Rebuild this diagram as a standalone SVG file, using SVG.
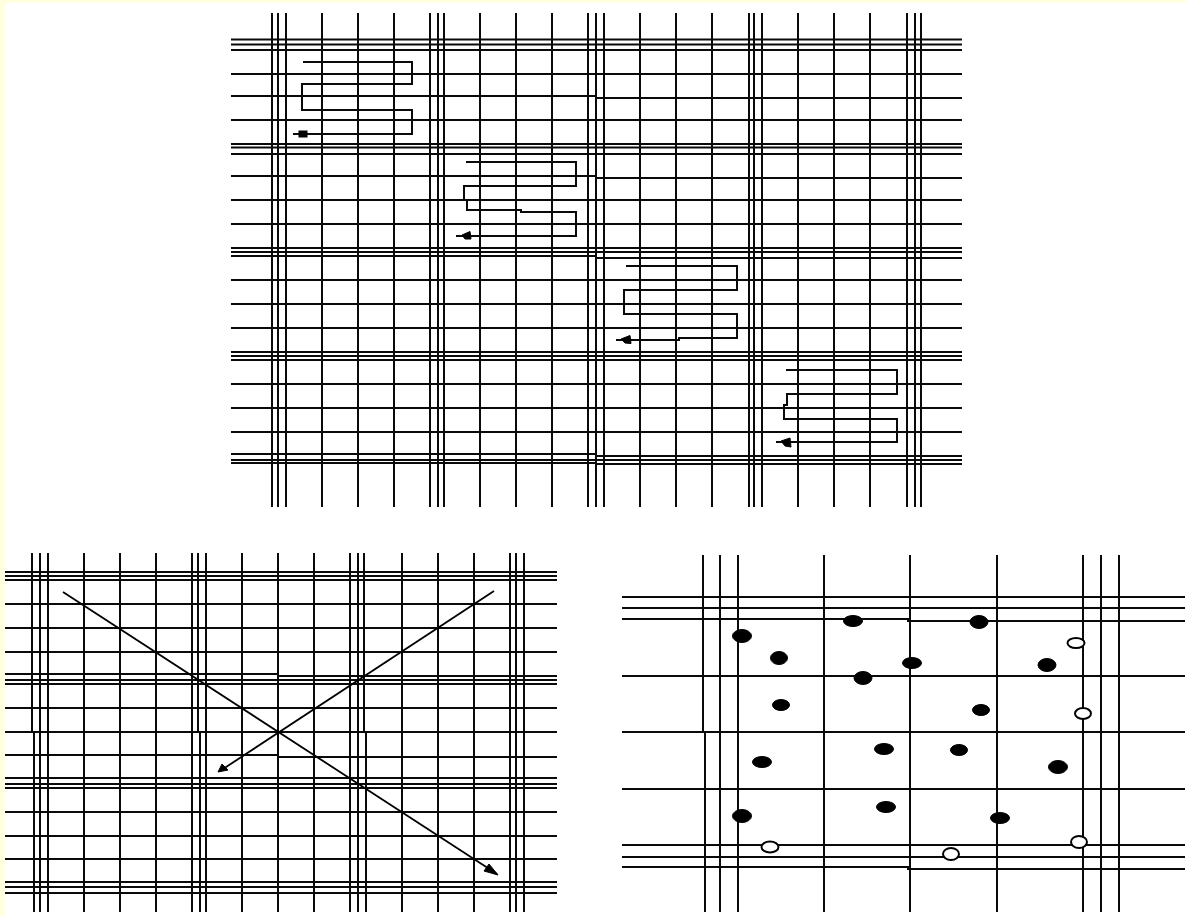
<svg xmlns="http://www.w3.org/2000/svg" width="1185" height="916" viewBox="0 0 1185 916">
<style>
.grid,.route{fill:none;stroke:#0a0a0a;stroke-width:2}
.diag{fill:none;stroke:#000;stroke-width:1.800}
.head{fill:#000;stroke:#000;stroke-width:1}
.on{fill:#000;stroke:#000;stroke-width:1}
.off{fill:#fff;stroke:#000;stroke-width:2}
</style>
<rect width="1185" height="916" fill="#ffffe0"/>
<rect x="5" y="3" width="1180" height="913" fill="#fff"/>
<g id="panel-top">
<path class="grid" d="M272 13V507M278 13V507M286 13V507M322 13V507M358 13V507M394 13V507M430 13V507M438 13V507M444 13V507M480 13V507M516 13V507M552 13V507M588 13V507M596 13V507M604 13V507M640 13V507M676 13V507M712 13V507M749 13V507M754 13V507M762 13V507M798 13V507M834 13V507M870 13V507M907 13V507M915 13V507M921 13V507"/>
<path class="grid" d="M231 39.500H962M231 44.500H962M231 50H962M231 74H962M231 96H596V98H962M231 120H962M231 144H962M231 147.500H962M231 154H962M231 176H596V178H962M231 200H962M231 224H962M231 248H962M231 252H962M231 256H596V258H962M231 280H962M231 304H962M231 328H962M231 352H962M231 356H962M231 360H962M231 384H962M231 408H962M231 432H962M231 454H596V456H962M231 460H962M231 463H596V464H962"/>
</g>
<g id="connectors-top">
<path class="route" d="M303 62H412V84H302V110H412V134H293"/>
<rect class="head" x="299" y="131" width="8" height="6"/>
<path class="route" d="M466 162H576V186H464V200H467V210H521V212H576V236H456"/>
<polygon class="head" points="462,235 470,231.500 471,239 465,239"/>
<path class="route" d="M626 266H737V290H624V314H737V338H679V340H616"/>
<polygon class="head" points="621,339 630,335.500 631,343.500 625,343"/>
<path class="route" d="M786 370H897V394H787V405H784V419H897V442H776"/>
<polygon class="head" points="781,441 790,438 791,447 785,446"/>
</g>
<g id="panel-left">
<path class="grid" d="M32 553V732H34V912M40 553V912M48 553V912M84 553V912M120 553V912M156 553V912M192 553V912M198 553V732H200V912M206 553V912M242 553V912M278 553V912M314 553V912M350 553V912M358 553V912M364 553V732H366V912M402 553V912M438 553V912M474 553V912M510 553V912M516 553V912M524 553V912"/>
<path class="grid" d="M5 572H557M5 576H557M5 580H557M5 604H557M5 628H557M5 652H557M5 674H278V676H557M5 680H557M5 684H557M5 708H557M5 732H557M5 755H278V757H557M5 778H557M5 784H557M5 788H557M5 812H557M5 836H557M5 859H557M5 882H557M5 887H557M5 893H557"/>
</g>
<g id="connectors-left">
<path class="diag" d="M63 592L497 874"/>
<polygon class="head" points="498,875 484,871 489,864"/>
<path class="diag" d="M494 591L220 771"/>
<polygon class="head" points="218,772 222,764 228,770"/>
</g>
<g id="panel-right">
<path class="grid" d="M703 555V732H705V912M720 555V912M738 555V912M824 555V912M910 555V912M997 555V912M1083 555V912M1101 555V912M1119 555V912"/>
<path class="grid" d="M622 597H1185M622 608H1185M622 619H908V621H1185M622 676H1185M622 732H1185M622 789H1185M622 845H1185M622 857H1185M622 867H908V869H1185"/>
</g>
<g id="dots-filled">
<ellipse class="on" cx="742" cy="636" rx="9.500" ry="6.500"/>
<ellipse class="on" cx="779" cy="658" rx="8.500" ry="6.500"/>
<ellipse class="on" cx="781" cy="705" rx="8.500" ry="5.500"/>
<ellipse class="on" cx="762" cy="762" rx="9.500" ry="5.500"/>
<ellipse class="on" cx="742" cy="816" rx="9.500" ry="6.500"/>
<ellipse class="on" cx="853" cy="621" rx="9.500" ry="5.500"/>
<ellipse class="on" cx="863" cy="678" rx="9" ry="6.500"/>
<ellipse class="on" cx="884" cy="749" rx="9.500" ry="5.500"/>
<ellipse class="on" cx="886" cy="807" rx="9.500" ry="5.500"/>
<ellipse class="on" cx="912" cy="663" rx="9.500" ry="5.500"/>
<ellipse class="on" cx="979" cy="622" rx="9" ry="6.500"/>
<ellipse class="on" cx="1047" cy="665" rx="9" ry="6.500"/>
<ellipse class="on" cx="981" cy="710" rx="8.500" ry="5.500"/>
<ellipse class="on" cx="959" cy="750" rx="8.500" ry="5.500"/>
<ellipse class="on" cx="1058" cy="767" rx="9.500" ry="6.500"/>
<ellipse class="on" cx="1000" cy="818" rx="9.500" ry="5.500"/>
</g>
<g id="dots-open">
<ellipse class="off" cx="770" cy="847" rx="8.500" ry="5.500"/>
<ellipse class="off" cx="1076" cy="643" rx="8.500" ry="5"/>
<ellipse class="off" cx="1083" cy="713.500" rx="8" ry="5.500"/>
<ellipse class="off" cx="1079" cy="842" rx="8" ry="6"/>
<ellipse class="off" cx="951" cy="854" rx="8" ry="6"/>
</g>
</svg>
